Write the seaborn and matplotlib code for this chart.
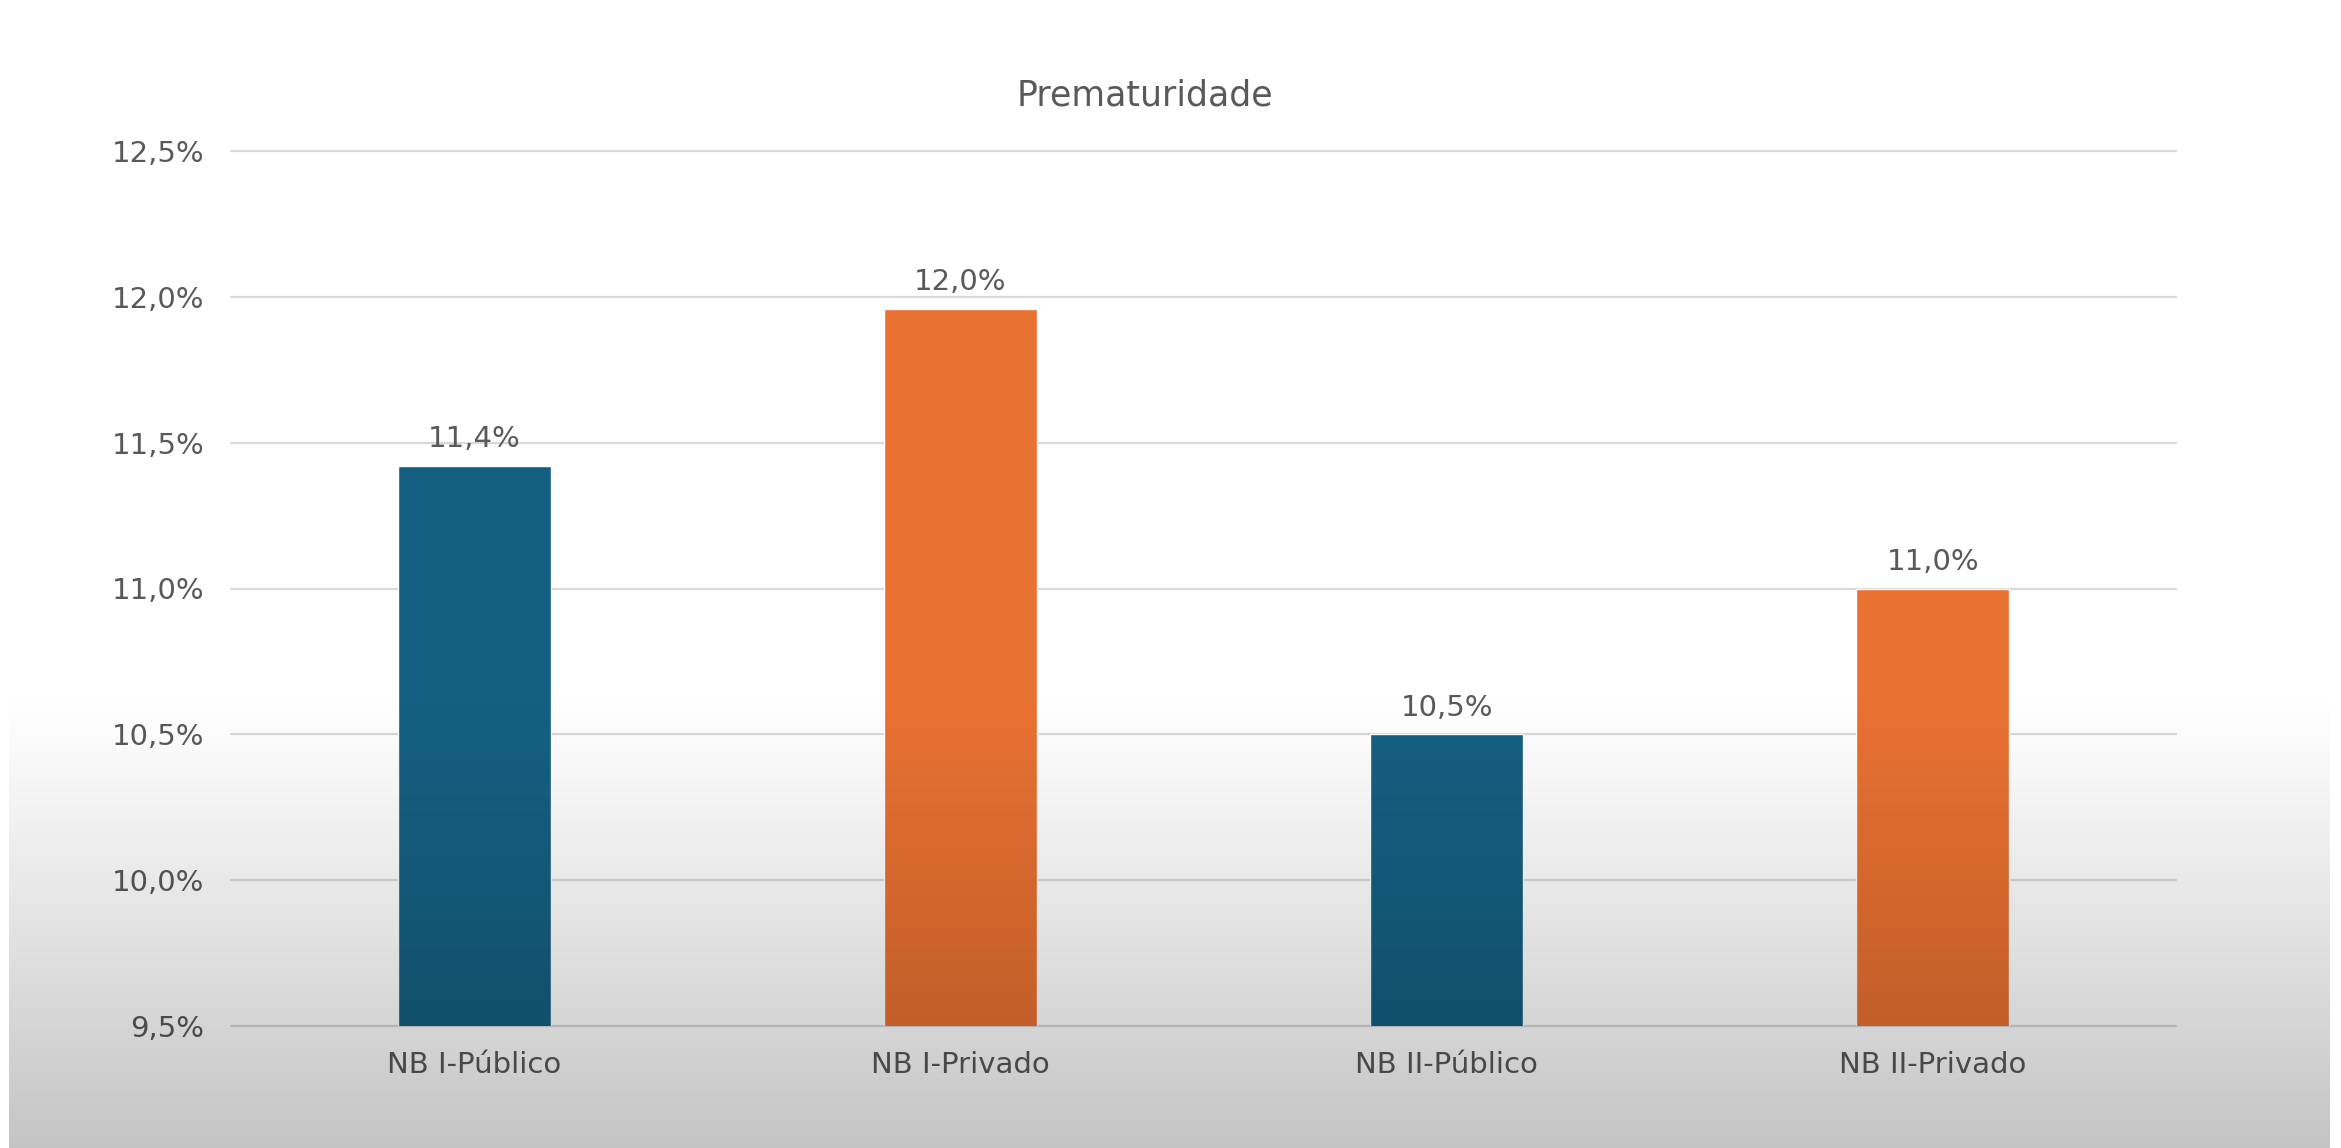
import numpy as np
import pandas as pd
import matplotlib
matplotlib.use("Agg")
import matplotlib.pyplot as plt
from matplotlib.ticker import FuncFormatter, MultipleLocator
import seaborn as sns

# Prematurity rate (%) by hospital group
categories = ["NB I-Público", "NB I-Privado", "NB II-Público", "NB II-Privado"]
values = [11.42, 11.96, 10.50, 11.00]
bar_colors = ["#156082", "#E97132", "#156082", "#E97132"]
title = "Prematuridade"

df = pd.DataFrame({"grupo": categories, "taxa": values})

sns.set_theme(style="white")
plt.rcParams["font.family"] = ["DejaVu Sans"]
text_color = "#595959"

W, H, DPI = 2341, 1148, 100
fig = plt.figure(figsize=(W / DPI, H / DPI), dpi=DPI, facecolor="white")
ax = fig.add_axes([231 / W, 1 - 1026 / H, (2176 - 231) / W, (1026 - 151) / H])
ax.set_facecolor("none")

sns.barplot(data=df, x="grupo", y="taxa", hue="grupo", palette=bar_colors,
            legend=False, width=0.315, saturation=1, ax=ax, zorder=3)

ax.set_ylim(9.5, 12.5)
ax.yaxis.set_major_locator(MultipleLocator(0.5))
ax.yaxis.set_major_formatter(FuncFormatter(lambda v, _: f"{v:.1f}%".replace(".", ",")))
ax.grid(axis="y", color="#d9d9d9", linewidth=1.6, zorder=0)
ax.grid(axis="x", visible=False)
for gl in ax.get_ygridlines():
    gl.set_clip_on(False)
for s in ax.spines.values():
    s.set_visible(False)
ax.tick_params(axis="y", length=0, pad=19, labelsize=21, labelcolor=text_color)
ax.tick_params(axis="x", length=0, pad=18, labelsize=21, labelcolor=text_color)
ax.set_xlabel("")
ax.set_ylabel("")

# value labels above each bar
for patch, v in zip(ax.patches, values):
    ax.annotate(f"{v:.1f}%".replace(".", ","),
                xy=(patch.get_x() + patch.get_width() / 2, patch.get_height()),
                xytext=(0, 9), textcoords="offset points",
                ha="center", va="bottom", fontsize=21, color=text_color)

fig.text(1145 / W, 1 - 96 / H, title, ha="center", va="center",
         fontsize=25, color=text_color)

# darkening haze toward the bottom of the frame
ov = fig.add_axes([9 / W, 0, (2330 - 9) / W, 1], zorder=10)
ov.set_axis_off()
ys = np.linspace(0, H, 600)
alpha = np.clip((ys - 690) / (H - 690), 0, 1) ** 1.1 * 0.235
rgba = np.zeros((len(ys), 2, 4))
rgba[..., 3] = alpha[:, None]
ov.imshow(rgba, aspect="auto", extent=(0, 1, H, 0), interpolation="bilinear")
ov.set_xlim(0, 1)
ov.set_ylim(H, 0)

fig.savefig("out.png", dpi=DPI, facecolor="white")
